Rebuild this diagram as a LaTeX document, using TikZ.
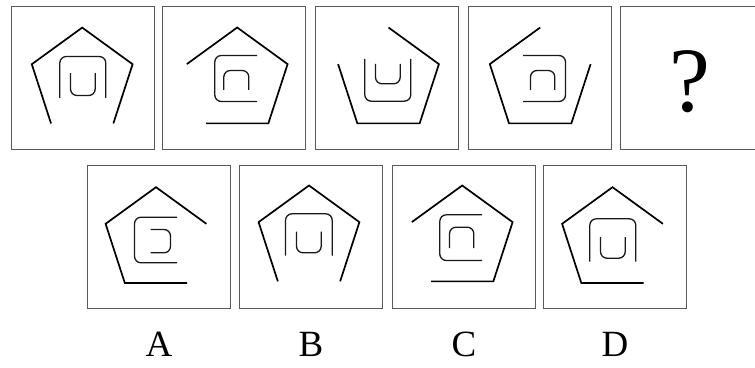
\documentclass[tikz,border=0pt]{standalone}
\usepackage{fontspec}
\setmainfont{Liberation Serif}
\usetikzlibrary{positioning}
\tikzset{
  panel/.style={draw=black!65,line width=1.2pt,minimum size=143pt,inner sep=0pt,outer sep=0pt},
  pentline/.style={line width=1.7pt,line join=miter},
  loopline/.style={line width=1.3pt,rounded corners=6.5pt,black!90},
  optlabel/.style={font=\fontsize{37}{40}\selectfont},
}
% pentagon (centre #1,#2) with side #3 left out: 1 upper right ... 5 upper left
\newcommand{\pentgap}[3]{\draw[pentline,shift={(#1,#2)}] ({-90+72*#3}:53)
  \foreach \i in {1,...,4}{ -- ({-90+72*#3+72*\i}:53)};}
\newcommand{\openbot}[4]{\draw[loopline] (#1,#4) -- (#1,#3) -- (#2,#3) -- (#2,#4);}
\newcommand{\opentop}[4]{\draw[loopline] (#1,#3) -- (#1,#4) -- (#2,#4) -- (#2,#3);}
\newcommand{\openright}[4]{\draw[loopline] (#2,#3) -- (#1,#3) -- (#1,#4) -- (#2,#4);}
\newcommand{\openleft}[4]{\draw[loopline] (#1,#3) -- (#2,#3) -- (#2,#4) -- (#1,#4);}
\begin{document}
\begin{tikzpicture}[x=1pt,y=-1pt]
\useasboundingbox (0,0) rectangle (755,367);
% question row
\node[panel] (q1) at (83,78) {};
\node[panel] (q2) at (234,78) {};
\node[panel] (q3) at (387,78) {};
\node[panel] (q4) at (540,78) {};
\node[panel] (q5) at (692,78) {};
\node[font=\fontsize{92}{96}\selectfont] (qm) at (690,82) {?};
% answer row
\node[panel] (a) at (159,237) {};
\node[panel] (b) at (311,237) {};
\node[panel] (c) at (464,237) {};
\node[panel] (d) at (615,237) {};
\node[optlabel] (la) at (159,344) {A};
\node[optlabel] (lb) at (311,344) {B};
\node[optlabel] (lc) at (464,344) {C};
\node[optlabel] (ld) at (615,344) {D};

\begin{scope}[shift={(q1.north west)}]
  \pentgap{70.7}{74.1}{3}
  \openbot{48.3}{94.3}{50}{91.3} \opentop{59}{83.7}{66.7}{89}
\end{scope}
\begin{scope}[shift={(q2.north west)}]
  \pentgap{74.7}{74}{4}
  \openright{52.3}{94.7}{49}{95} \openbot{61.3}{86.3}{64}{83.3}
\end{scope}
\begin{scope}[shift={(q3.north west)}]
  \pentgap{73}{74}{5}
  \opentop{49.3}{95.3}{52.3}{94.7} \opentop{60}{84.7}{57.3}{77.3}
\end{scope}
\begin{scope}[shift={(q4.north west)}]
  \pentgap{71.7}{74}{1}
  \openleft{54.7}{97}{49}{95} \openbot{62}{86.3}{64}{83.3}
\end{scope}

\begin{scope}[shift={(a.north west)}]
  \pentgap{68.5}{74.7}{2}
  \openright{47}{89.7}{51.7}{97.3} \openleft{63}{83}{64}{87.3}
\end{scope}
\begin{scope}[shift={(b.north west)}]
  \pentgap{69.5}{73}{3}
  \openbot{46}{92.7}{48.3}{90} \opentop{57}{81.7}{66}{87.3}
\end{scope}
\begin{scope}[shift={(c.north west)}]
  \pentgap{69.7}{73}{4}
  \openright{47.3}{89.7}{49.3}{95} \openbot{57}{81.3}{61.7}{82.7}
\end{scope}
\begin{scope}[shift={(d.north west)}]
  \pentgap{69}{74.7}{2}
  \openbot{46.3}{92.3}{53.3}{96} \opentop{57}{81.7}{71.7}{92.7}
\end{scope}
\end{tikzpicture}
\end{document}
